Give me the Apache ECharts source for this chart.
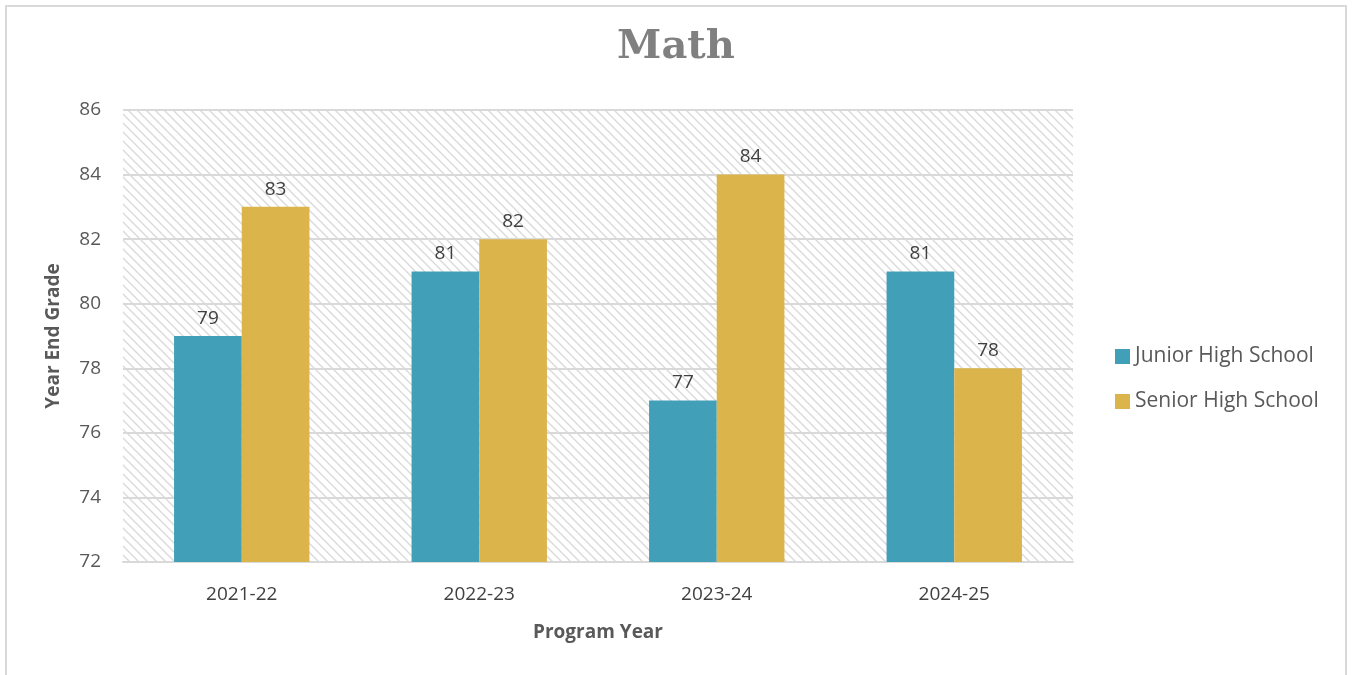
<!DOCTYPE html>
<html>
<head>
<meta charset="utf-8">
<script src="https://cdn.jsdelivr.net/npm/echarts@6/dist/echarts.min.js"></script>
<style>
  html, body { margin: 0; padding: 0; background: #ffffff; }
  #frame { position: absolute; left: 5px; top: 5px; width: 1342px; height: 680px; border: 2px solid #d9d9d9; box-sizing: border-box; }
  #chart { width: 1352px; height: 675px; position: absolute; left: 0; top: 0; }
</style>
</head>
<body>
<div id="frame"></div>
<div id="chart"></div>
<script>
// Program years and year-end math grades
const categories = ['2021-22', '2022-23', '2023-24', '2024-25'];
const juniorHigh = [79, 81, 77, 81];
const seniorHigh = [83, 82, 84, 78];
const yTicks = { min: 72, max: 86, interval: 2 };

// Diagonal hatch tile for the plot background
function hatchTile() {
  const c = document.createElement('canvas');
  const s = 9;
  c.width = s; c.height = s;
  const g = c.getContext('2d');
  g.fillStyle = '#ffffff';
  g.fillRect(0, 0, s, s);
  g.strokeStyle = '#dadada';
  g.lineWidth = 1.4;
  g.beginPath();
  g.moveTo(-2, -2); g.lineTo(s + 2, s + 2);
  g.moveTo(-2, s - 2); g.lineTo(2, s + 2);
  g.moveTo(s - 2, -2); g.lineTo(s + 2, 2);
  g.stroke();
  return c;
}

const chart = echarts.init(document.getElementById('chart'), null, { renderer: 'canvas' });
const font = "'Open Sans', 'Noto Sans', sans-serif";
const labelStyle = { show: true, position: 'top', distance: 8, color: '#404040', fontSize: 19, fontFamily: font };

chart.setOption({
  animation: false,
  title: {
    text: 'Math', left: 'center', top: 23,
    textStyle: { fontFamily: "'DejaVu Serif', 'Liberation Serif', serif", fontWeight: 'bold', fontSize: 40, color: '#808080' }
  },
  legend: {
    orient: 'vertical', left: 1110, top: 341, itemGap: 24,
    itemWidth: 15, itemHeight: 15, icon: 'rect',
    textStyle: { fontFamily: font, fontSize: 21, color: '#595959' },
    data: ['Junior High School', 'Senior High School']
  },
  grid: {
    left: 123, right: 279, top: 110, bottom: 113,
    show: true, borderWidth: 0,
    backgroundColor: { image: hatchTile(), repeat: 'repeat' }
  },
  xAxis: {
    type: 'category', data: categories,
    name: 'Program Year', nameLocation: 'middle', nameGap: 61,
    nameTextStyle: { fontFamily: font, fontWeight: 'bold', fontSize: 19, color: '#595959' },
    axisLine: { lineStyle: { color: '#d9d9d9', width: 2 } },
    axisTick: { show: false },
    axisLabel: { margin: 23, fontFamily: font, fontSize: 19, color: '#404040' }
  },
  yAxis: {
    type: 'value', min: yTicks.min, max: yTicks.max, interval: yTicks.interval,
    name: 'Year End Grade', nameLocation: 'middle', nameGap: 60,
    nameTextStyle: { fontFamily: font, fontWeight: 'bold', fontSize: 19, color: '#595959' },
    axisLine: { show: false }, axisTick: { show: false },
    axisLabel: { margin: 22, fontFamily: font, fontSize: 19, color: '#595959' },
    splitLine: { lineStyle: { color: '#d9d9d9', width: 2 } }
  },
  series: [
    {
      name: 'Junior High School', type: 'bar', data: juniorHigh,
      barGap: '0%', barCategoryGap: '43%',
      itemStyle: { color: '#429FB8' }, label: labelStyle
    },
    {
      name: 'Senior High School', type: 'bar', data: seniorHigh,
      barGap: '0%', barCategoryGap: '43%',
      itemStyle: { color: '#DCB44C' }, label: labelStyle
    }
  ]
});
</script>
</body>
</html>
